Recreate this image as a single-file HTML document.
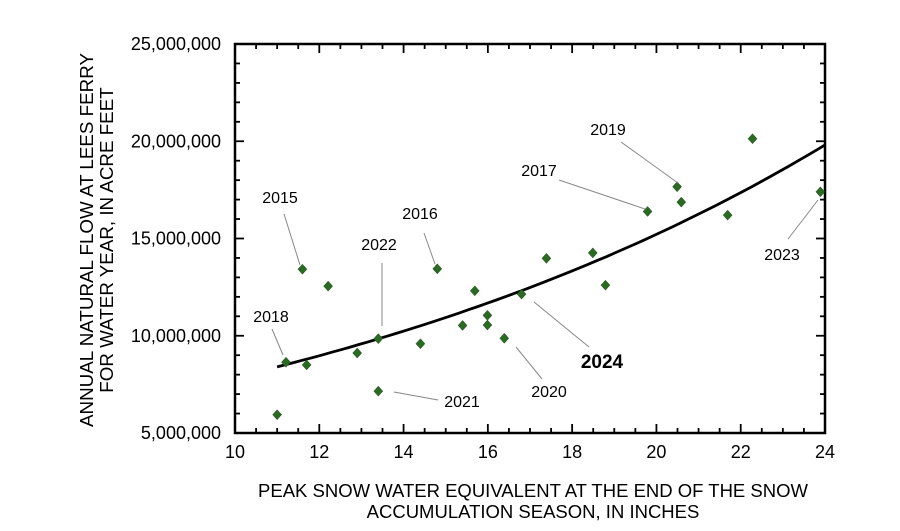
<!DOCTYPE html>
<html><head><meta charset="utf-8"><style>
html,body{margin:0;padding:0;background:#fff;}
svg{display:block;font-family:"Liberation Sans",Arial,sans-serif;}
</style></head><body>
<svg id="chart" width="900" height="531" viewBox="0 0 900 531">
<g id="axes"></g>
<g id="marks"></g>
<g id="annot"></g>
<text x="533" y="497" text-anchor="middle" font-size="18.5">PEAK SNOW WATER EQUIVALENT AT THE END OF THE SNOW</text>
<text x="533" y="518" text-anchor="middle" font-size="18.5">ACCUMULATION SEASON, IN INCHES</text>
<text transform="translate(93,240) rotate(-90)" text-anchor="middle" font-size="18.8">ANNUAL NATURAL FLOW AT LEES FERRY</text>
<text transform="translate(113,240) rotate(-90)" text-anchor="middle" font-size="18.8">FOR WATER YEAR, IN ACRE FEET</text>
</svg>
<script>
const xTicks=[10,12,14,16,18,20,22,24];
const yTicks=[5,10,15,20,25];
const yTickLabels=["5,000,000","10,000,000","15,000,000","20,000,000","25,000,000"];
const snow=[11.0,11.21,11.6,11.7,12.21,12.9,13.4,13.4,14.4,14.8,15.4,15.69,15.99,15.99,16.39,16.8,17.39,18.49,18.79,19.79,20.49,20.59,21.69,22.28,23.89];
const flowMillions=[5.94,8.64,13.42,8.50,12.55,9.11,9.85,7.15,9.59,13.44,10.53,12.31,11.05,10.55,9.87,12.14,13.98,14.26,12.6,16.39,17.66,16.87,16.2,20.13,17.4];
const fitA=8.4, fitB=0.066, fitX0=11, fitX1=24;
const labelYears=["2018","2015","2022","2016","2021","2020","2024","2017","2019","2023"];

const L=235,R=825,T=44,B=433;
const xs=v=>L+(v-10)/14*(R-L);
const ys=v=>B-(v-5)/20*(B-T);
const NS='http://www.w3.org/2000/svg';
function mk(tag,parent,attrs){const e=document.createElementNS(NS,tag);for(const k in attrs)e.setAttribute(k,attrs[k]);parent.appendChild(e);return e;}
const axes=document.getElementById('axes'),marks=document.getElementById('marks'),ann=document.getElementById('annot');
let fr=mk('rect',axes,{x:L,y:T,width:R-L,height:B-T,fill:'none',stroke:'#000','stroke-width':2.5});


for(let v=10;v<=24.001;v+=0.5){const maj=Math.abs(v/2-Math.round(v/2))<1e-6;const len=maj?9:5;const x=xs(v);
 mk('line',axes,{x1:x,x2:x,y1:B,y2:B-len,stroke:'#000','stroke-width':1.8});
 mk('line',axes,{x1:x,x2:x,y1:T,y2:T+len,stroke:'#000','stroke-width':1.8});}
for(let v=5;v<=25.001;v+=1){const maj=v%5===0;const len=maj?9:5;const y=ys(v);
 mk('line',axes,{x1:L,x2:L+len,y1:y,y2:y,stroke:'#000','stroke-width':1.8});
 mk('line',axes,{x1:R,x2:R-len,y1:y,y2:y,stroke:'#000','stroke-width':1.8});}
xTicks.forEach(v=>{const t=mk('text',axes,{x:xs(v),y:B+25,'text-anchor':'middle','font-size':18});t.textContent=v;
 
 });
yTicks.forEach((v,i)=>{const t=mk('text',axes,{x:221,y:ys(v)+6,'text-anchor':'end','font-size':18});t.textContent=yTickLabels[i];
 
 });
let d='';for(let i=0;i<=60;i++){const v=fitX0+(fitX1-fitX0)*i/60;d+=(i?'L':'M')+xs(v).toFixed(1)+','+ys(fitA*Math.exp(fitB*(v-fitX0))).toFixed(1);}
const c=mk('path',marks,{d:d,fill:'none',stroke:'#000','stroke-width':2.8});


snow.forEach((v,i)=>{const x=xs(v),y=ys(flowMillions[i]);
 const p=mk('path',marks,{d:`M${x},${y-5}L${x+4.5},${y}L${x},${y+5}L${x-4.5},${y}Z`,fill:'#2a6a22',stroke:'#1d4d17','stroke-width':0.5});
 
 });
const annLayout=[
 {tx:271,ty:322,l:[272,329,283,355]},
 {tx:280,ty:203,l:[284,214,300,265]},
 {tx:379,ty:250,l:[382,263,382,326]},
 {tx:420,ty:219,l:[424,233,435,264]},
 {tx:462,ty:407,l:[394,392,438,400]},
 {tx:549,ty:397,l:[516,347,542,379]},
 {tx:602,ty:368,l:[534,302,589,347],bold:true},
 {tx:539,ty:176,l:[559,180,645,209]},
 {tx:608,ty:135,l:[621,142,678,183]},
 {tx:782,ty:260,l:[788,239,818,200]}];
labelYears.forEach((yr,i)=>{const a=annLayout[i];
 const ln=mk('line',ann,{x1:a.l[0],y1:a.l[1],x2:a.l[2],y2:a.l[3],stroke:'#888','stroke-width':1});
 
 
 const t=mk('text',ann,{x:a.tx,y:a.ty,'text-anchor':'middle','font-size':a.bold?19:16,'font-weight':a.bold?'bold':'normal'});t.textContent=yr;
 
 });
</script>
</body></html>
